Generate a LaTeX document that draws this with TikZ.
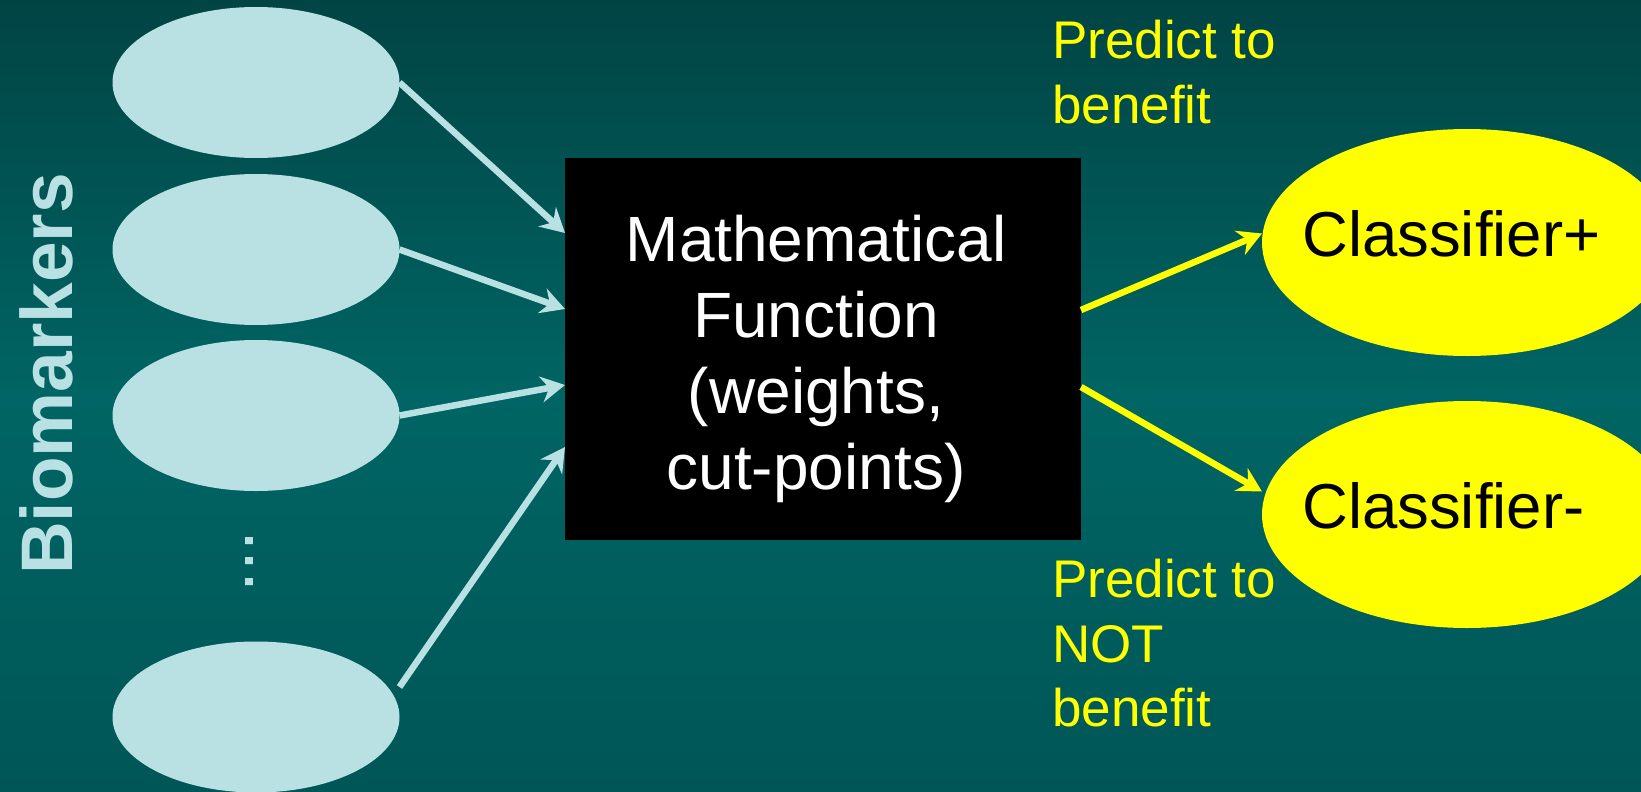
\documentclass[tikz,border=0pt]{standalone}
\usepackage{fontspec}
\setmainfont{Liberation Sans}
\usetikzlibrary{arrows.meta,shapes.geometric}
\definecolor{bgtop}{RGB}{1,68,68}
\definecolor{bgmid}{RGB}{0,101,100}
\definecolor{bgbot}{RGB}{0,86,86}
\definecolor{lblue}{RGB}{185,224,227}
\definecolor{yel}{RGB}{255,255,0}
\begin{document}
\begin{tikzpicture}[x=1pt,y=-1pt,
  bio/.style={ellipse, fill=lblue, draw=none, minimum width=287pt, minimum height=151pt, inner sep=0pt, outer sep=0pt},
  cls/.style={ellipse, fill=yel, draw=none, minimum width=410pt, minimum height=227pt, inner sep=0pt, outer sep=0pt},
  fbox/.style={rectangle, fill=black, draw=none, minimum width=516pt, minimum height=382pt, inner sep=0pt, outer sep=0pt},
  bluearrow/.style={draw=lblue, line width=6.5pt, -{Stealth[length=24pt,width=26pt,inset=8pt]}},
  yelarrow/.style={draw=yel, line width=6.5pt, -{Stealth[length=24pt,width=26pt,inset=8pt]}},
  clstext/.style={anchor=base west, inner sep=0pt, text=black, font=\fontsize{63.5}{76}\selectfont},
  ylabel/.style={anchor=north west, align=left, inner sep=0pt, text=yel, font=\fontsize{53}{64.5}\selectfont},
]
\useasboundingbox (0,0) rectangle (1641,792);
\clip (0,0) rectangle (1641,792);
\shade[top color=bgtop, bottom color=bgmid] (0,0) rectangle (1641,396);
\shade[top color=bgmid, bottom color=bgbot] (0,395.5) rectangle (1641,792);

% biomarker ellipses
\node[bio] (e1) at (256,82.5) {};
\node[bio] (e2) at (256,249.5) {};
\node[bio] (e3) at (256,415.5) {};
\node[bio] (e4) at (256,717) {};
\node[rotate=90, anchor=base west, inner sep=0pt, text=lblue, font=\fontsize{75}{80}\selectfont] (dots) at (253,593) {...};
\node[rotate=90, anchor=base west, inner sep=0pt, text=lblue, font=\bfseries\fontsize{73}{80}\selectfont] (biolabel) at (72,575) {Biomarkers};

% function box
\node[fbox] (box) at (823,349) {};
\node[anchor=north, align=center, inner sep=0pt, text=white, font=\fontsize{64}{76}\selectfont] (mtxt) at (816,215) {Mathematical\\Function\\(weights,\\cut-points)};

% classifiers
\node[cls] (cp) at (1467,242.5) {};
\node[cls] (cm) at (1467,514.5) {};
\node[clstext] (cpt) at (1302,256) {Classifier+};
\node[clstext] (cmt) at (1302,528) {Classifier-};

% labels
\node[ylabel] (pben) at (1052,20) {Predict to\\benefit};
\node[ylabel] (pnot) at (1052,559) {Predict to\\NOT\\benefit};

% connectors
\draw[bluearrow] (e1.east) -- ([yshift=116pt]box.west);
\draw[bluearrow] (e2.east) -- ([yshift=40pt]box.west);
\draw[bluearrow] (e3.east) -- ([yshift=-36pt]box.west);
\draw[bluearrow] ([yshift=30pt]e4.east) -- ([yshift=-98pt]box.west);
\draw[yelarrow] ([yshift=39pt]box.east) -- ([yshift=9pt]cp.west);
\draw[yelarrow] ([yshift=-38pt]box.east) -- ([yshift=23pt]cm.west);
\end{tikzpicture}
\end{document}
